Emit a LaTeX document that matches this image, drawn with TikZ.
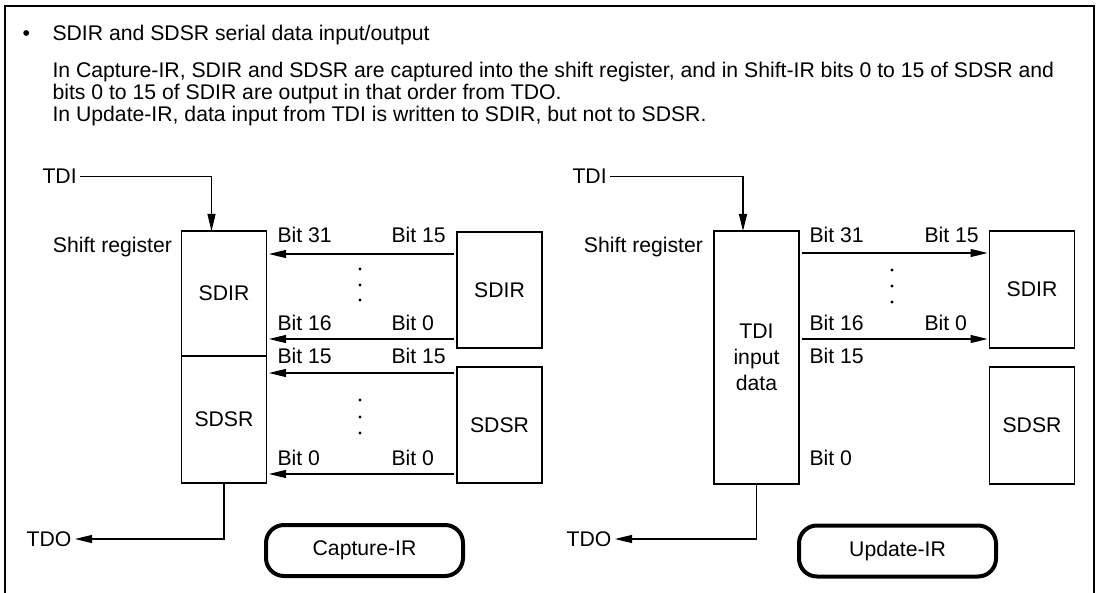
\documentclass[tikz,border=0pt]{standalone}
\usepackage{fontspec}
\setmainfont{Liberation Sans}
\usetikzlibrary{arrows.meta,positioning}

\begin{document}
\begin{tikzpicture}[x=1pt,y=-1pt,
    every node/.style={font=\fontsize{21.2}{22}\selectfont},
    reg/.style={draw, line width=1.2pt, minimum width=85pt, inner sep=0pt, outer sep=0pt},
    modebox/.style={draw, line width=4pt, rounded corners=18pt, minimum width=197pt, minimum height=51pt},
    arr/.style={-{Triangle[length=17pt,width=8pt]}, line width=1.2pt}]
        \useasboundingbox (0,0) rectangle (1099,593);
        \draw[line width=2pt] (5,593) -- (5,6) -- (1094,6) -- (1094,593);

        % Heading and text
        \node[anchor=base west] (bul) at (19,40.7) {\textbullet};
        \node[anchor=base west] (head) at (49,40.7) {SDIR and SDSR serial data input/output};
        \node[anchor=base west] (txta) at (49,78) {In Capture-IR, SDIR and SDSR are captured into the shift register, and in Shift-IR bits 0 to 15 of SDSR and};
        \node[anchor=base west] (txtb) at (49,100) {bits 0 to 15 of SDIR are output in that order from TDO.};
        \node[anchor=base west] (txtc) at (49,122) {In Update-IR, data input from TDI is written to SDIR, but not to SDSR.};

        % Capture-IR
        \node[reg, minimum height=125pt] (lsdir) at (224,293.5) {SDIR};
        \node[reg, minimum height=127pt, below=0pt of lsdir] (lsdsr) {SDSR};
        \node[reg, minimum height=116pt] (csdir) at (499.5,290) {SDIR};
        \node[reg, minimum height=116pt] (csdsr) at (499.5,425) {SDSR};
        \node[anchor=base east] (lshift) at (175.5,253) {Shift register};
        \node[anchor=base west] (ltdi) at (39,184) {TDI};
        \node[anchor=east] (ltdo) at (75,539) {TDO};
        \draw[arr] (ltdi.east) -| ([xshift=-12.5pt]lsdir.north);
        \draw[arr] (lsdsr.south) |- (ltdo.east);
        \foreach \yy/\la/\lb in {243/31/15, 330/16/0, 363/15/15, 465/0/0} {
          \node[anchor=base west] at (274,\yy) {Bit \la};
          \node[anchor=base west] at (388,\yy) {Bit \lb};
        }
        \foreach \dy in {22, 107} {
          \coordinate (c\dy) at ([xshift=-3pt,yshift=-\dy pt]csdir.north west);
          \draw[arr, shorten >=2.5pt] (c\dy) -- (c\dy -| lsdir.east);
        }
        \foreach \dy in {6, 107} {
          \coordinate (d\dy) at ([xshift=-3pt,yshift=-\dy pt]csdsr.north west);
          \draw[arr, shorten >=2.5pt] (d\dy) -- (d\dy -| lsdsr.east);
        }
        \foreach \yy in {269, 285, 300, 400, 417, 433}
          \fill (360,\yy) circle (1.7pt);
        \node[modebox] (capt) at (364.5,550.5) {Capture-IR};

        % Update-IR
        \node[reg, minimum height=253pt, align=center,
              font=\fontsize{21.2}{26}\selectfont] (ushift) at (756.5,357.5) {TDI\\input\\data};
        \node[reg, minimum height=117pt] (usdir) at (1032,289.5) {SDIR};
        \node[reg, minimum height=117pt] (usdsr) at (1032,425.5) {SDSR};
        \node[anchor=base east] (rshift) at (706.5,253) {Shift register};
        \node[anchor=base west] (rtdi) at (569,184) {TDI};
        \node[anchor=east] (rtdo) at (615,539) {TDO};
        \draw[arr] (rtdi.east) -| ([xshift=-13.5pt]ushift.north);
        \draw[arr] (ushift.south) |- (rtdo.east);
        \foreach \yy/\la/\lb in {243/31/15, 330/16/0} {
          \node[anchor=base west] at (806,\yy) {Bit \la};
          \node[anchor=base west] at (921,\yy) {Bit \lb};
        }
        \node[anchor=base west] at (806,363) {Bit 15};
        \node[anchor=base west] at (806,465) {Bit 0};
        \foreach \dy in {22, 108} {
          \coordinate (u\dy) at ([xshift=3pt,yshift=-\dy pt]ushift.north east);
          \draw[arr, shorten >=2pt] (u\dy) -- (u\dy -| usdir.west);
        }
        \foreach \yy in {270, 286, 302}
          \fill (892,\yy) circle (1.7pt);
        \node[modebox] (updt) at (897.5,551) {Update-IR};
      \end{tikzpicture}
\end{document}
